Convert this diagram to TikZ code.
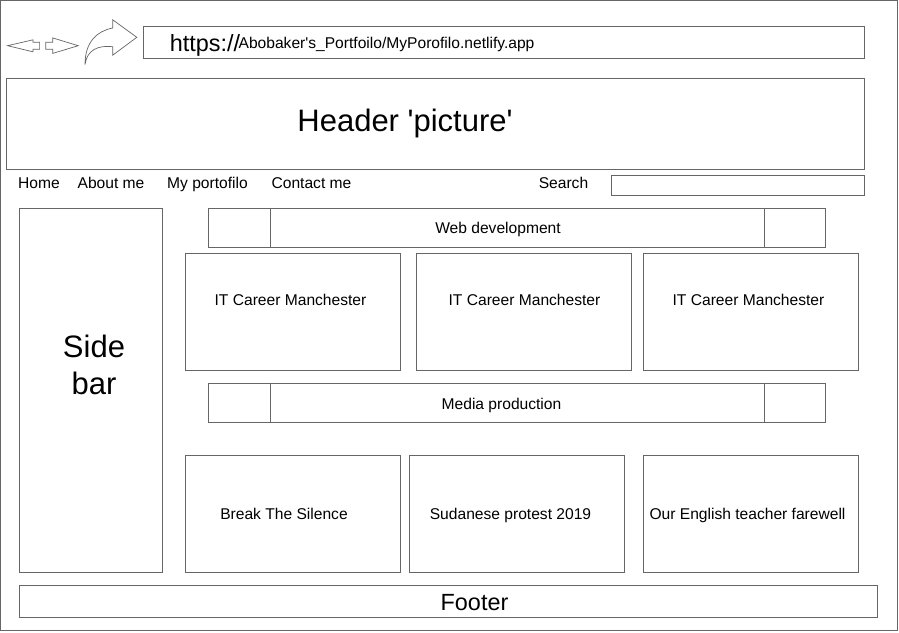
\documentclass[tikz,border=0pt]{standalone}
\usepackage{fontspec}
\setmainfont{Liberation Sans}
\usepackage{tikz}
\usetikzlibrary{positioning}
\definecolor{lineGrey}{HTML}{666666}
\begin{document}
\begin{tikzpicture}[x=1pt,y=-1pt]
	\tikzstyle{box} = [rectangle, draw=lineGrey, line width=1pt, inner sep=0pt, fill=white]
	\tikzstyle{card} = [box, minimum width=215pt, minimum height=117pt]
	\tikzstyle{band} = [box, minimum width=617pt, minimum height=39pt]
	\tikzstyle{icon} = [draw=lineGrey, line width=0.7pt, line join=miter]
	\tikzstyle{small} = [anchor=base, inner sep=0pt, font=\fontsize{15.6}{18}\selectfont]
	\tikzstyle{big} = [anchor=base, inner sep=0pt, font=\fontsize{23.4}{28}\selectfont]
	\tikzstyle{huge} = [anchor=base, inner sep=0pt, font=\fontsize{31}{37}\selectfont]
	\useasboundingbox (0,0) rectangle (899,632);
	\node (frame) [box, minimum width=897pt, minimum height=630pt] at (449,315.5) {};
	% browser bar
	\draw [icon] (7.6,45.7) -- (33,39.8) -- (33,42.3) -- (39.6,42.3) -- (39.6,49.3) -- (33,49.3) -- (33,51.8) -- cycle;
	\draw [icon] (78.2,45.7) -- (52.7,37.9) -- (52.7,42.3) -- (45.8,42.3) -- (45.8,49.3) -- (52.7,49.3) -- (52.7,53.4) -- cycle;
	\draw [icon] (85,64.5) .. controls (85,42) and (97,31) .. (112.7,28) -- (112.7,19.8) -- (136.8,37.3) -- (112.7,55.2) -- (112.7,46.7) .. controls (98,45) and (87,50) .. (85,64.5) -- cycle;
	\node (urlBar) [box, minimum width=721pt, minimum height=32pt] at (503.5,42) {};
	\node (urlScheme) [big] at (205,51) {https://};
	\node (urlPath) [small] at (386.5,48) {Abobaker\textquotesingle s\_Portfoilo/MyPorofilo.netlify.app};
	% header and menu
	\node (header) [box, minimum width=858pt, minimum height=91pt] at (435,123.5) {};
	\node (headerText) [huge] at (405,131) {Header \textquotesingle picture\textquotesingle};
	\node (home) [small] at (39,188) {Home};
	\node (about) [small] at (111,188) {About me};
	\node (portfolio) [small] at (207.5,188) {My portofilo};
	\node (contact) [small] at (311.5,188) {Contact me};
	\node (search) [small] at (563.5,188) {Search};
	\node (searchBox) [box, minimum width=253pt, minimum height=20pt] at (737.5,185) {};
	% side bar
	\node (sideBar) [box, minimum width=143pt, minimum height=364pt] at (90.5,390) {};
	\node (sideText) [huge] at (94,357) {Side};
	\node (barText) [huge] at (94,394) {bar};
	% web development
	\node (web) [band] at (516.5,227.5) {};
	\draw [draw=lineGrey] ([xshift=62.5pt]web.north west) -- ([xshift=62.5pt]web.south west);
	\draw [draw=lineGrey] ([xshift=-61.5pt]web.north east) -- ([xshift=-61.5pt]web.south east);
	\node (webText) [small] at (498,233) {Web development};
	\node (webCard1) [card] at (293,311.5) {};
	\node (webCard2) [card] at (523.5,311.5) {};
	\node (webCard3) [card] at (751,311.5) {};
	\node (webText1) [small] at (290.5,305) {IT Career Manchester};
	\node (webText2) [small] at (524.5,305) {IT Career Manchester};
	\node (webText3) [small] at (748.5,305) {IT Career Manchester};
	% media production
	\node (media) [band] at (516.5,402.5) {};
	\draw [draw=lineGrey] ([xshift=62.5pt]media.north west) -- ([xshift=62.5pt]media.south west);
	\draw [draw=lineGrey] ([xshift=-61.5pt]media.north east) -- ([xshift=-61.5pt]media.south east);
	\node (mediaText) [small] at (501.5,409) {Media production};
	\node (mediaCard1) [card] at (293,513.5) {};
	\node (mediaCard2) [card] at (517,513.5) {};
	\node (mediaCard3) [card] at (751,513.5) {};
	\node (mediaText1) [small] at (284,519) {Break The Silence};
	\node (mediaText2) [small] at (510.5,519) {Sudanese protest 2019};
	\node (mediaText3) [small] at (747.5,519) {Our English teacher farewell};
	% footer
	\node (footer) [box, minimum width=858pt, minimum height=32pt] at (448.5,601) {};
	\node (footerText) [big] at (474.5,610) {Footer};
\end{tikzpicture}
\end{document}
